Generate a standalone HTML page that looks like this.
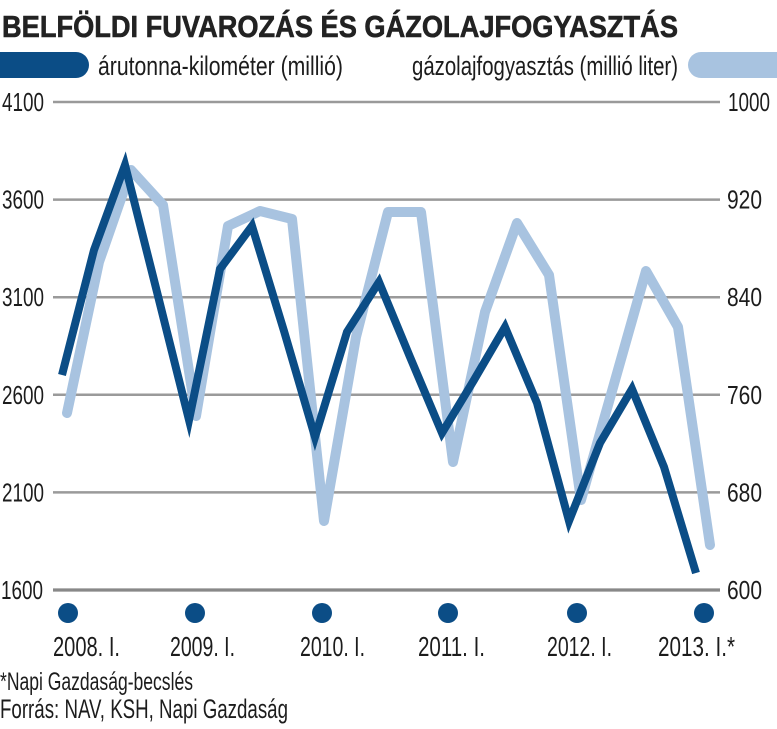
<!DOCTYPE html>
<html><head><meta charset="utf-8"><style>
html,body{margin:0;padding:0;background:#fff;}
svg{display:block;}
text{font-family:"Liberation Sans Narrow","Liberation Sans",sans-serif;fill:#1c1c1c;}
</style></head><body>
<svg width="777" height="729" viewBox="0 0 777 729" xmlns="http://www.w3.org/2000/svg">
<text x="2" y="37" font-size="31" font-weight="bold" textLength="676" lengthAdjust="spacingAndGlyphs" style="fill:#222;stroke:#222;stroke-width:0.6">BELFÖLDI FUVAROZÁS ÉS GÁZOLAJFOGYASZTÁS</text>
<path d="M0,52 H76 A13,13 0 0 1 76,78 H0 Z" fill="#0b4d86"/>
<text x="98" y="75" font-size="27" textLength="245" lengthAdjust="spacingAndGlyphs">árutonna-kilométer (millió)</text>
<text x="412" y="75" font-size="27" textLength="266" lengthAdjust="spacingAndGlyphs">gázolajfogyasztás (millió liter)</text>
<path d="M777,52 H701 A13,13 0 0 0 701,78 H777 Z" fill="#a8c3e0"/>
<g stroke="#9a9a9a" stroke-width="2.5">
<line x1="53" y1="102" x2="720" y2="102"/>
<line x1="53" y1="199.6" x2="720" y2="199.6"/>
<line x1="53" y1="297.2" x2="720" y2="297.2"/>
<line x1="53" y1="394.8" x2="720" y2="394.8"/>
<line x1="53" y1="492.4" x2="720" y2="492.4"/>
</g>
<line x1="53" y1="590" x2="720" y2="590" stroke="#888" stroke-width="3.2"/>
<g font-size="26">
<text x="2" y="111" textLength="42" lengthAdjust="spacingAndGlyphs">4100</text>
<text x="2" y="208.6" textLength="42" lengthAdjust="spacingAndGlyphs">3600</text>
<text x="2" y="306.2" textLength="42" lengthAdjust="spacingAndGlyphs">3100</text>
<text x="2" y="403.8" textLength="42" lengthAdjust="spacingAndGlyphs">2600</text>
<text x="2" y="501.4" textLength="42" lengthAdjust="spacingAndGlyphs">2100</text>
<text x="1" y="599" textLength="42" lengthAdjust="spacingAndGlyphs">1600</text>
<text x="728" y="111" textLength="42" lengthAdjust="spacingAndGlyphs">1000</text>
<text x="727" y="208.6" textLength="35" lengthAdjust="spacingAndGlyphs">920</text>
<text x="727" y="306.2" textLength="35" lengthAdjust="spacingAndGlyphs">840</text>
<text x="727" y="403.8" textLength="35" lengthAdjust="spacingAndGlyphs">760</text>
<text x="727" y="501.4" textLength="35" lengthAdjust="spacingAndGlyphs">680</text>
<text x="727" y="599" textLength="35" lengthAdjust="spacingAndGlyphs">600</text>
</g>
<polyline fill="none" stroke="#a8c3e0" stroke-width="10" stroke-linejoin="round" stroke-linecap="round"
points="67,413 99,262 131,170 163,205 196,416 228,226 260,211 292,219 324,521 356,337 388,212 421,212 453,462 485,312 517,223 549,275 581,500 614,384 646,271 678,327 710,545"/>
<polyline fill="none" stroke="#0b4d86" stroke-width="8" stroke-linejoin="miter" stroke-miterlimit="10" stroke-linecap="butt"
points="62,375 94,250 125,165 157,292 189,420 220,269 252,226 284,331 315,437 347,332 379,282 410,357 442,433 474,380 505,327 537,403 569,521 600,443 632,389 664,467 696,573"/>
<g fill="#0b4d86">
<circle cx="68" cy="613" r="10"/>
<circle cx="195" cy="613" r="10"/>
<circle cx="322" cy="613" r="10"/>
<circle cx="448" cy="613" r="10"/>
<circle cx="577" cy="613" r="10"/>
<circle cx="704" cy="613" r="10"/>
</g>
<g font-size="27.5">
<text x="53" y="656" textLength="67" lengthAdjust="spacingAndGlyphs">2008. I.</text>
<text x="170" y="656" textLength="65" lengthAdjust="spacingAndGlyphs">2009. I.</text>
<text x="300" y="656" textLength="65" lengthAdjust="spacingAndGlyphs">2010. I.</text>
<text x="418" y="656" textLength="67" lengthAdjust="spacingAndGlyphs">2011. I.</text>
<text x="547" y="656" textLength="65" lengthAdjust="spacingAndGlyphs">2012. I.</text>
<text x="658" y="656" textLength="77" lengthAdjust="spacingAndGlyphs">2013. I.*</text>
</g>
<text x="0" y="690" font-size="25" textLength="193" lengthAdjust="spacingAndGlyphs">*Napi Gazdaság-becslés</text>
<text x="0" y="718" font-size="27" textLength="288" lengthAdjust="spacingAndGlyphs">Forrás: NAV, KSH, Napi Gazdaság</text>
</svg>
</body></html>
